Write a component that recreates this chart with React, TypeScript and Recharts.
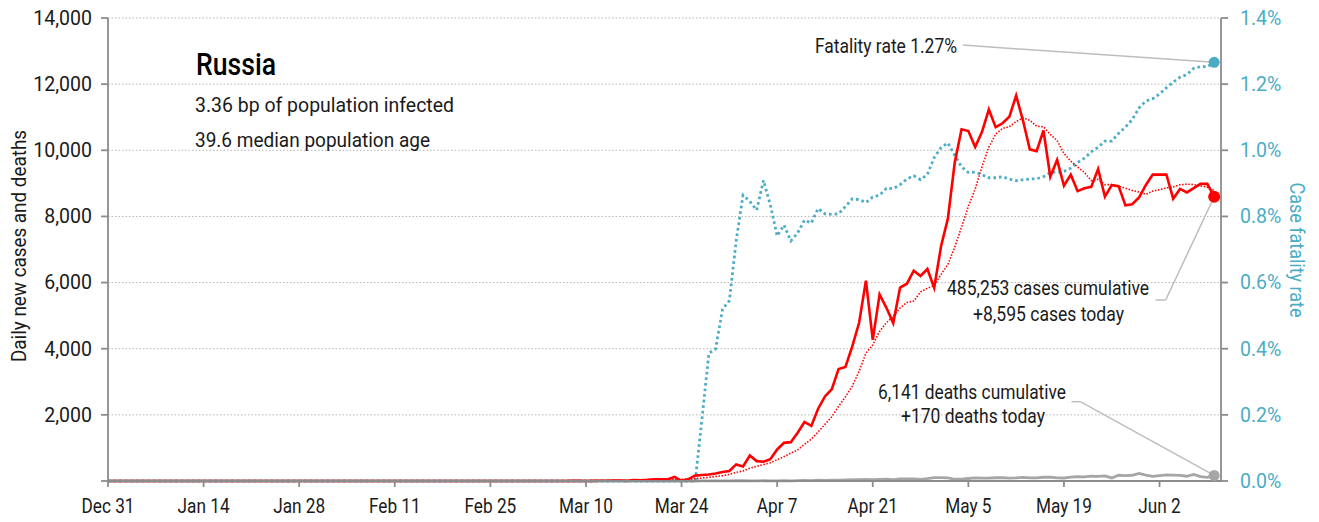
import React from 'react'
import { ComposedChart, Line, XAxis, YAxis, CartesianGrid, ReferenceDot, ReferenceLine } from 'recharts'

// one value per day, Dec 31 (day 0) to Jun 10 (day 162)
const dailyCases = [
  0,
  // Jan
  0, 0, 0, 0, 0, 0, 0, 0, 0, 0, 0, 0, 0, 0, 0, 0, 0, 0, 0, 0, 0, 0, 0, 0, 0, 0, 0, 0, 0, 0, 0,
  // Feb
  2, 0, 0, 0, 0, 0, 0, 0, 0, 0, 0, 0, 0, 0, 0, 0, 0, 0, 0, 0, 0, 0, 0, 0, 0, 0, 0, 0, 0,
  // Mar
  0, 0, 1, 0, 0, 0, 1, 6, 3, 0, 3, 8, 6, 11, 14, 4, 30, 21, 33, 52, 54, 53, 125, 0, 57, 163, 182, 196, 228, 270, 302,
  // Apr
  501, 440, 771, 601, 582, 658, 954, 1154, 1175, 1459, 1786, 1667, 2186, 2558, 2774, 3388, 3448, 4070, 4785, 6060,
  4268, 5642, 5236, 4774, 5849, 5966, 6361, 6198, 6411, 5841,
  // May
  7099, 7933, 9623, 10633, 10581, 10102, 10559, 11231, 10699, 10817, 11012, 11656, 10899, 10028, 9974, 10598, 9200,
  9709, 8926, 9263, 8764, 8849, 8894, 9434, 8599, 8946, 8915, 8338, 8371, 8572, 8952,
  // Jun
  9268, 9263, 9268, 8536, 8831, 8726, 8855, 8984, 8985, 8595,
]

const dailyDeaths = [
  0,
  0, 0, 0, 0, 0, 0, 0, 0, 0, 0, 0, 0, 0, 0, 0, 0, 0, 0, 0, 0, 0, 0, 0, 0, 0, 0, 0, 0, 0, 0, 0,
  0, 0, 0, 0, 0, 0, 0, 0, 0, 0, 0, 0, 0, 0, 0, 0, 0, 0, 0, 0, 0, 0, 0, 0, 0, 0, 0, 0, 0,
  0, 0, 0, 0, 0, 0, 0, 0, 0, 0, 0, 0, 0, 0, 0, 0, 0, 0, 0, 0, 0, 0, 0, 0, 0, 0, 2, 2, 1, 3, 2,
  7, 7, 6, 4, 9, 2, 2, 11, 5, 13, 18, 12, 24, 18, 22, 28, 34, 41, 40, 48, 44, 51, 57, 42, 60, 66, 66, 47, 73, 105,
  101, 96, 53, 58, 76, 95, 86, 88, 98, 104, 88, 94, 107, 96, 93, 113, 119, 94, 91, 115, 135, 127, 150, 139, 153, 92,
  174, 161, 174, 232, 181,
  138, 162, 182, 178, 169, 144, 197, 134, 112, 170,
]

// 7-day average of new cases (dotted red)
const weeklyAvg = [
  0,
  0, 0, 0, 0, 0, 0, 0, 0, 0, 0, 0, 0, 0, 0, 0, 0, 0, 0, 0, 0, 0, 0, 0, 0, 0, 0, 0, 0, 0, 0, 0,
  0, 0, 0, 0, 0, 0, 0, 0, 0, 0, 0, 0, 0, 0, 0, 0, 0, 0, 0, 0, 0, 0, 0, 0, 0, 0, 0, 0, 0,
  0, 0, 0, 0, 0, 0, 0.3, 1.1, 1.6, 1.4, 1.9, 3, 3.9, 5.3, 6.4, 6.6, 10.9, 13.4, 17, 23.6, 29.7, 35.3, 52.6, 48.3, 53.4,
  72, 90.6, 110.9, 135.9, 156.6, 199.7,
  263, 303, 387, 445, 495, 551, 644, 737, 842, 940, 1110, 1265, 1483, 1712, 1944, 2260, 2544, 2870, 3316, 3869,
  4113, 4523, 4787, 4976, 5231, 5399, 5442, 5718, 5828, 5914,
  6246, 6544, 7067, 7677, 8303, 8830, 9504, 10095, 10490, 10660, 10714, 10868, 10982, 10906, 10726, 10712, 10481,
  10295, 9905, 9671, 9491, 9330, 9086, 9120, 8961, 8964, 8914, 8854, 8785, 8739, 8670,
  8766, 8812, 8862, 8891, 8956, 8978, 8965, 8924, 8884, 8787,
]

// case fatality rate, percent (right axis)
const fatalityRate = [
  0,
  0, 0, 0, 0, 0, 0, 0, 0, 0, 0, 0, 0, 0, 0, 0, 0, 0, 0, 0, 0, 0, 0, 0, 0, 0, 0, 0, 0, 0, 0, 0,
  0, 0, 0, 0, 0, 0, 0, 0, 0, 0, 0, 0, 0, 0, 0, 0, 0, 0, 0, 0, 0, 0, 0, 0, 0, 0, 0, 0, 0,
  0, 0, 0, 0, 0, 0, 0, 0, 0, 0, 0, 0, 0, 0, 0, 0, 0, 0, 0, 0, 0, 0, 0, 0, 0, 0, 0.19, 0.386, 0.4, 0.52, 0.545,
  0.727, 0.864, 0.846, 0.819, 0.909, 0.835, 0.741, 0.774, 0.726, 0.75, 0.789, 0.78, 0.824, 0.808, 0.806, 0.808, 0.83,
  0.853, 0.851, 0.842, 0.859, 0.864, 0.885, 0.884, 0.896, 0.913, 0.923, 0.911, 0.927, 0.978,
  1.008, 1.022, 0.985, 0.95, 0.933, 0.934, 0.926, 0.917, 0.917, 0.92, 0.913, 0.908, 0.911, 0.913, 0.914, 0.92, 0.933,
  0.934, 0.936, 0.946, 0.963, 0.976, 0.995, 1.009, 1.028, 1.028, 1.051, 1.07, 1.093, 1.128, 1.149,
  1.156, 1.17, 1.189, 1.206, 1.221, 1.229, 1.248, 1.253, 1.253, 1.266,
]

const dayTicks = [0, 14, 28, 42, 56, 70, 84, 98, 112, 126, 140, 154]
const dayLabels = ['Dec 31', 'Jan 14', 'Jan 28', 'Feb 11', 'Feb 25', 'Mar 10', 'Mar 24', 'Apr 7', 'Apr 21', 'May 5', 'May 19', 'Jun 2']
const caseTicks = [0, 2000, 4000, 6000, 8000, 10000, 12000, 14000]
const rateTicks = [0, 0.2, 0.4, 0.6, 0.8, 1.0, 1.2, 1.4]

const rows = dailyCases.map((v, i) => ({
  day: i,
  cases: v,
  avg: weeklyAvg[i],
  deaths: dailyDeaths[i],
  cfr: fatalityRate[i],
}))
const last = rows.length - 1

const RED = '#FF0000'
const BLUE = '#4BACC6'
const GREY = '#A6A6A6'
const AXIS = '#8C8C8C'
const LEADER = '#BDBDBD'
const TEXT = '#1a1a1a'

function XTick(props: any) {
  const { x, y, payload } = props
  const label = dayLabels[dayTicks.indexOf(payload.value)]
  return (
    <g transform={`translate(${x},${y + 26})`}>
      <text x={0} y={0} textAnchor="middle" fontSize={20.5} fill={TEXT} transform="scale(0.84,1)">
        {label}
      </text>
    </g>
  )
}

export default function App() {
  return (
    <div style={{ position: 'absolute', left: 0, top: 0, width: 1319, height: 522, fontFamily: 'Roboto, sans-serif', background: '#fff' }}>
      <ComposedChart width={1319} height={522} data={rows} margin={{ top: 18, right: 0, bottom: 0, left: 0 }}>
        <CartesianGrid vertical={false} stroke="#B4B4B4" strokeDasharray="1.5 2" />
        <XAxis
          dataKey="day"
          type="number"
          domain={[0, 163]}
          ticks={dayTicks}
          height={41}
          tickSize={6}
          tickMargin={0}
          tick={(p: any) => <XTick {...p} />}
          axisLine={{ stroke: AXIS, strokeWidth: 1.8 }}
          tickLine={{ stroke: AXIS, strokeWidth: 1.8 }}
        />
        <YAxis
          domain={[0, 14000]}
          ticks={caseTicks}
          width={108}
          tickSize={7}
          tickMargin={9}
          tickFormatter={(v: number) => (v === 0 ? '' : v.toLocaleString('en-US'))}
          tick={{ fontSize: 19.5, fill: TEXT }}
          axisLine={{ stroke: AXIS, strokeWidth: 1.8 }}
          tickLine={{ stroke: AXIS, strokeWidth: 1.8 }}
        />
        <YAxis
          yAxisId="right"
          orientation="right"
          domain={[0, 1.4]}
          ticks={rateTicks}
          width={98}
          tickSize={7}
          tickMargin={12}
          tickFormatter={(v: number) => v.toFixed(1) + '%'}
          tick={{ fontSize: 19.5, fill: BLUE }}
          axisLine={{ stroke: AXIS, strokeWidth: 1.8 }}
          tickLine={{ stroke: AXIS, strokeWidth: 1.8 }}
        />
        <Line dataKey="deaths" stroke={GREY} strokeWidth={2.8} dot={false} isAnimationActive={false} />
        <Line yAxisId="right" dataKey="cfr" stroke={BLUE} strokeWidth={2.8} strokeDasharray="2.6 3" dot={false} isAnimationActive={false} />
        <Line dataKey="avg" stroke={RED} strokeWidth={1.6} strokeDasharray="1.5 1.6" dot={false} isAnimationActive={false} />
        <Line dataKey="cases" stroke={RED} strokeWidth={2.6} dot={false} isAnimationActive={false} />

        {/* leader lines from the notes to the latest values */}
        <ReferenceLine yAxisId="right" segment={[{ x: 125.2, y: 1.318 }, { x: last, y: fatalityRate[last] }]} stroke={LEADER} strokeWidth={1.5} />
        <ReferenceLine segment={[{ x: 153.4, y: 5473 }, { x: 154.9, y: 5473 }]} stroke={LEADER} strokeWidth={1.5} />
        <ReferenceLine segment={[{ x: 154.9, y: 5473 }, { x: last, y: dailyCases[last] }]} stroke={LEADER} strokeWidth={1.5} />
        <ReferenceLine segment={[{ x: 141.1, y: 2398 }, { x: 142.4, y: 2398 }]} stroke={LEADER} strokeWidth={1.5} />
        <ReferenceLine segment={[{ x: 142.4, y: 2398 }, { x: last, y: dailyDeaths[last] }]} stroke={LEADER} strokeWidth={1.5} />

        <ReferenceDot x={last} y={dailyDeaths[last]} r={5.5} fill={GREY} stroke="none" />
        <ReferenceDot x={last} y={dailyCases[last]} r={6} fill={RED} stroke="none" />
        <ReferenceDot yAxisId="right" x={last} y={fatalityRate[last]} r={5.5} fill={BLUE} stroke="none" />
      </ComposedChart>

      <svg width={1319} height={522} style={{ position: 'absolute', left: 0, top: 0, pointerEvents: 'none' }}>
        <text x={196} y={75} fontSize={31} fontWeight={500} fill="#000" textLength={80} lengthAdjust="spacingAndGlyphs">Russia</text>
        <text x={195} y={111.5} fontSize={20} fill={TEXT} textLength={259} lengthAdjust="spacingAndGlyphs">3.36 bp of population infected</text>
        <text x={195} y={146.5} fontSize={20} fill={TEXT} textLength={235} lengthAdjust="spacingAndGlyphs">39.6 median population age</text>

        <text x={815} y={53} fontSize={20.5} fill={TEXT} textLength={142} lengthAdjust="spacingAndGlyphs">Fatality rate 1.27%</text>
        <text x={947} y={295} fontSize={20.5} fill={TEXT} textLength={202} lengthAdjust="spacingAndGlyphs">485,253 cases cumulative</text>
        <text x={973} y={321} fontSize={20.5} fill={TEXT} textLength={151} lengthAdjust="spacingAndGlyphs">+8,595 cases today</text>
        <text x={878} y={398.5} fontSize={20.5} fill={TEXT} textLength={188} lengthAdjust="spacingAndGlyphs">6,141 deaths cumulative</text>
        <text x={901} y={423} fontSize={20.5} fill={TEXT} textLength={144} lengthAdjust="spacingAndGlyphs">+170 deaths today</text>

        <text transform="translate(26,246) rotate(-90)" textAnchor="middle" fontSize={20} fill={TEXT} textLength={232} lengthAdjust="spacingAndGlyphs">Daily new cases and deaths</text>
        <text transform="translate(1290,250) rotate(90)" textAnchor="middle" fontSize={20} fill={BLUE} textLength={135} lengthAdjust="spacingAndGlyphs">Case fatality rate</text>
      </svg>
    </div>
  )
}
